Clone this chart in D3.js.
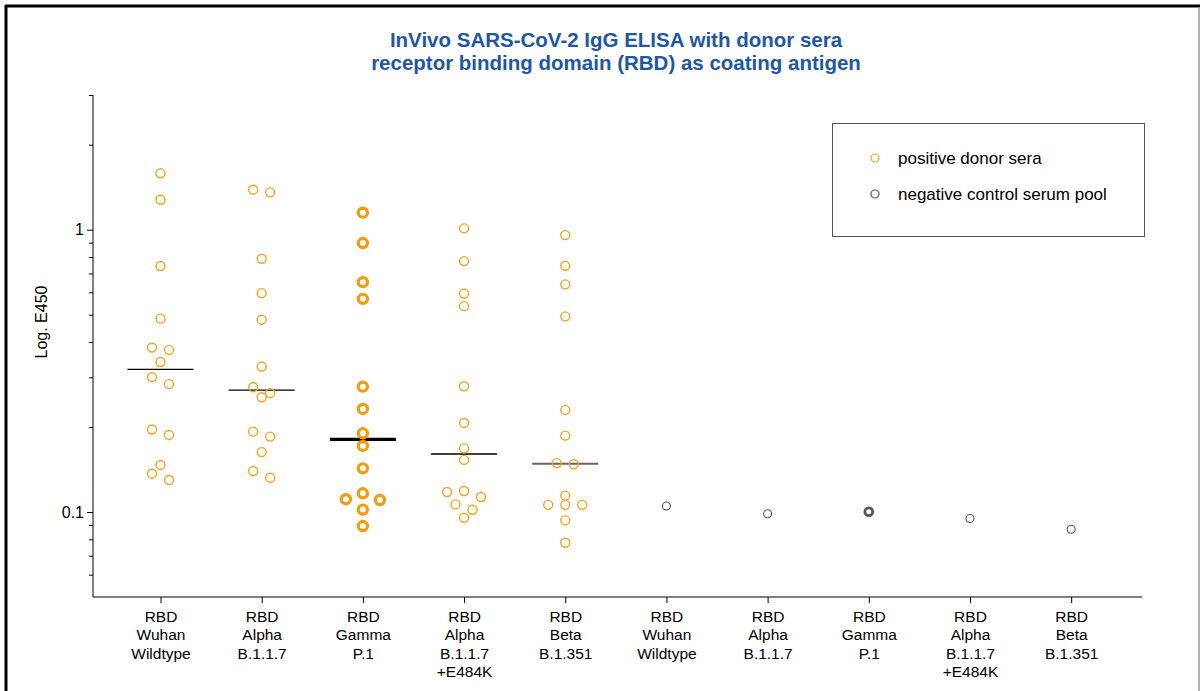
<!DOCTYPE html>
<html><head><meta charset="utf-8">
<script src="https://cdn.jsdelivr.net/npm/d3@7/dist/d3.min.js"></script>
<style>
body{margin:0;background:#fff}
svg{display:block}
text{font-family:"Liberation Sans",Arial,Helvetica,sans-serif}
</style>
</head><body>
<svg id="chart" width="1200" height="691"></svg>
<script>
// ---- data ----
const titleLines = ["InVivo SARS-CoV-2 IgG ELISA with donor sera", "receptor binding domain (RBD) as coating antigen"];
const yLabel = "Log. E450";
const categories = [
  ["RBD","Wuhan","Wildtype"],
  ["RBD","Alpha","B.1.1.7"],
  ["RBD","Gamma","P.1"],
  ["RBD","Alpha","B.1.1.7","+E484K"],
  ["RBD","Beta","B.1.351"],
  ["RBD","Wuhan","Wildtype"],
  ["RBD","Alpha","B.1.1.7"],
  ["RBD","Gamma","P.1"],
  ["RBD","Alpha","B.1.1.7","+E484K"],
  ["RBD","Beta","B.1.351"]
];
const positiveWuhan      = [1.584,1.277,0.744,0.484,0.3825,0.3754,0.340,0.3003,0.2837,0.196,0.1875,0.1468,0.1367,0.1298];
const positiveAlpha      = [1.386,1.356,0.789,0.596,0.480,0.3275,0.2768,0.2636,0.255,0.1926,0.185,0.163,0.1397,0.1323];
const positiveGamma      = [1.149,0.897,0.652,0.569,0.278,0.2318,0.190,0.1715,0.1428,0.1165,0.111,0.1103,0.102,0.0892];
const positiveAlphaE484K = [1.011,0.774,0.5945,0.536,0.279,0.2068,0.168,0.153,0.1187,0.1177,0.113,0.1064,0.1019,0.0954];
const positiveBeta       = [0.957,0.745,0.640,0.493,0.230,0.1865,0.149,0.1476,0.1143,0.106,0.106,0.106,0.0934,0.0778];
const negativePool       = [0.1050,0.0986,0.1002,0.0949,0.0869];
const yMajorTicks = [0.1, 1];
const yMajorLabels = ["0.1", "1"];
const yMinorTicks = [3,2,0.9,0.8,0.7,0.6,0.5,0.4,0.3,0.2,0.09,0.08,0.07,0.06];
const legendLabels = ["positive donor sera", "negative control serum pool"];

// ---- styles ----
const ORANGE = "#f8a11c";
const GREY = "#555555";
const boldGroups = new Set([2, 7]); // Gamma drawn with heavy symbols

const svg = d3.select("#chart");

// frame
svg.append("line").attr("x1",5).attr("x2",1200).attr("y1",6).attr("y2",6).attr("stroke","#000").attr("stroke-width",3);
svg.append("line").attr("x1",6).attr("x2",6).attr("y1",5).attr("y2",691).attr("stroke","#000").attr("stroke-width",3);
svg.append("line").attr("x1",1199).attr("x2",1199).attr("y1",7).attr("y2",691).attr("stroke","#999").attr("stroke-width",1.5);

const x = d3.scaleLinear().domain([-0.667, 9.7]).range([93, 1142]);
const y = d3.scaleLog().domain([0.05, 3]).range([597, 95]);

// title
const title = svg.append("text").attr("x", 616).attr("text-anchor","middle")
  .attr("font-size", 20.5).attr("font-weight","bold").attr("fill","#1d57a5");
titleLines.forEach((t,i)=> title.append("tspan").attr("x",616).attr("y",47 + i*22.5).text(t));

// y axis
const yAxisMajor = d3.axisLeft(y).tickValues(yMajorTicks)
  .tickFormat((d,i)=>yMajorLabels[i]).tickSize(6).tickPadding(3);
const gy = svg.append("g").attr("transform","translate(93,0)").call(yAxisMajor);
gy.select(".domain").attr("d","M0,95V597").attr("stroke","#000");
gy.selectAll("text").attr("font-size",16).attr("fill","#000").style("font-family",'"Liberation Sans",Arial,sans-serif');
const gyMinor = svg.append("g").attr("transform","translate(93,0)")
  .call(d3.axisLeft(y).tickValues(yMinorTicks).tickFormat("").tickSize(4));
gyMinor.select(".domain").remove();

svg.append("text").attr("transform","translate(47,322) rotate(-90)")
  .attr("text-anchor","middle").attr("font-size",16).attr("fill","#000").text(yLabel);

// x axis
const xAxis = d3.axisBottom(x).tickValues(d3.range(categories.length)).tickFormat("").tickSize(6);
const gx = svg.append("g").attr("transform","translate(0,597)").call(xAxis);
gx.select(".domain").attr("d","M93,0H1142").attr("stroke","#000");
gx.selectAll(".tick").each(function(d){
  const t = d3.select(this).append("text").attr("fill","#000").attr("font-size",15.5)
    .attr("text-anchor","middle").style("font-family",'"Liberation Sans",Arial,sans-serif');
  categories[d].forEach((line,i)=> t.append("tspan").attr("x",0).attr("y",25 + i*18.3).text(line));
});

// beeswarm-like layout: rows of points closer than ROW_H px, spread symmetrically
const ROW_H = 8.5, STEP = 17;
function layout(values){
  const pts = values.map(v=>({v, py:y(v)})).sort((a,b)=>a.py-b.py);
  const rows = [];
  pts.forEach(p=>{
    const r = rows[rows.length-1];
    if (r && p.py - r[0].py < ROW_H) r.push(p); else rows.push([p]);
  });
  rows.forEach(r=>{
    const n = r.length;
    r.forEach((p,i)=>{
      let slot;
      if (n % 2 === 1) { const k = Math.ceil(i/2); slot = i===0 ? 0 : (i%2===1 ? -k : k); }
      else { const k = Math.floor(i/2) + 0.5; slot = i%2===0 ? -k : k; }
      p.dx = slot * STEP;
    });
  });
  return pts;
}

const positives = [positiveWuhan, positiveAlpha, positiveGamma, positiveAlphaE484K, positiveBeta];
const plot = svg.append("g");
positives.forEach((vals, gi)=>{
  const bold = boldGroups.has(gi);
  const pts = layout(vals);
  const med = d3.median(vals);
  plot.append("line")
    .attr("x1", x(gi)-33).attr("x2", x(gi)+33)
    .attr("y1", y(med)).attr("y2", y(med))
    .attr("stroke", gi===4 ? "#666" : "#000")
    .attr("stroke-width", bold ? 3.2 : (gi===4 ? 2 : 1.4));
  plot.selectAll(null).data(pts).enter().append("circle")
    .attr("cx", d=>x(gi)+d.dx).attr("cy", d=>d.py)
    .attr("r", bold ? 4.6 : 4.5)
    .attr("fill","none").attr("stroke", bold ? "#f79a0c" : ORANGE)
    .attr("stroke-width", bold ? 3.2 : 1.4);
});
negativePool.forEach((v,i)=>{
  const gi = i + 5;
  const bold = boldGroups.has(gi);
  plot.append("circle").attr("cx", x(gi)).attr("cy", y(v))
    .attr("r", bold ? 3.9 : 4).attr("fill","none")
    .attr("stroke", GREY).attr("stroke-width", bold ? 2.8 : 1.1);
});

// legend
const lg = svg.append("g");
lg.append("rect").attr("x",832.5).attr("y",123.5).attr("width",312).attr("height",113)
  .attr("fill","#fff").attr("stroke","#555").attr("stroke-width",1);
const legendColors = [ORANGE, GREY];
legendLabels.forEach((t,i)=>{
  const cy = 158 + i*36;
  lg.append("circle").attr("cx",875).attr("cy",cy).attr("r",4).attr("fill","none")
    .attr("stroke",legendColors[i]).attr("stroke-width",1.2);
  lg.append("text").attr("x",898).attr("y",cy+6).attr("font-size",17).attr("fill","#000").text(t);
});
</script>
</body></html>
